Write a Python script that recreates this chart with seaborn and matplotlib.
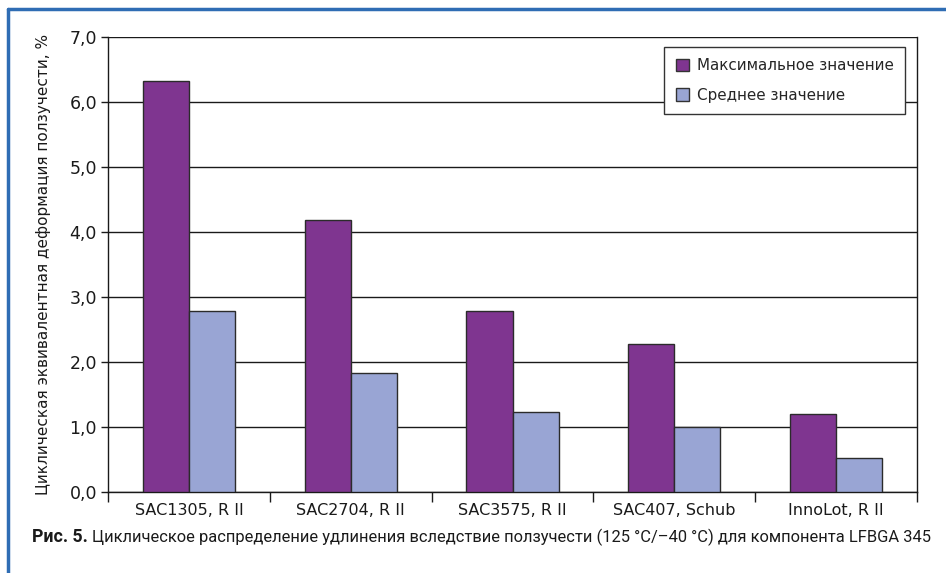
import matplotlib
matplotlib.use("Agg")
import matplotlib.pyplot as plt
from matplotlib.lines import Line2D
from matplotlib.ticker import FixedLocator, FuncFormatter
import seaborn as sns
import pandas as pd

# Creep strain values per solder alloy, %
alloys = ["SAC1305, R II", "SAC2704, R II", "SAC3575, R II", "SAC407, Schub", "InnoLot, R II"]
max_values = [6.33, 4.18, 2.79, 2.28, 1.20]
mean_values = [2.78, 1.84, 1.23, 1.00, 0.53]
series_names = ["Максимальное значение", "Среднее значение"]
series_colors = ["#7f3590", "#99a5d4"]
y_ticks = [0, 1, 2, 3, 4, 5, 6, 7]
caption_head = "Рис. 5."
caption_body = "Циклическое распределение удлинения вследствие ползучести (125 °C/–40 °C) для компонента LFBGA 345"

df = pd.DataFrame({
    "alloy": alloys * 2,
    "value": max_values + mean_values,
    "series": [series_names[0]] * len(alloys) + [series_names[1]] * len(alloys),
})

sns.set_theme(style="white")
plt.rcParams["font.family"] = ["DejaVu Sans"]

W, H = 946, 573
fig = plt.figure(figsize=(W / 100, H / 100), dpi=100)
ax = fig.add_axes([108 / W, 1 - 492.3 / H, (917 - 108) / W, (492.3 - 37) / H])

sns.barplot(
    data=df, x="alloy", y="value", hue="series",
    order=alloys, hue_order=series_names,
    palette=series_colors, width=0.57, gap=0,
    edgecolor="#2b2b2b", linewidth=1.0, saturation=1,
    ax=ax, zorder=3,
)

ax.set_ylim(0, 7)
ax.set_xlim(-0.5, len(alloys) - 0.5)
ax.set_yticks(y_ticks)
ax.yaxis.set_major_formatter(FuncFormatter(lambda v, p: f"{v:.1f}".replace(".", ",")))
ax.yaxis.grid(True, color="#1a1a1a", linewidth=1.0, zorder=0)
ax.set_axisbelow(True)

# category boundaries carry the tick marks, labels sit at the centres
ax.xaxis.set_major_locator(FixedLocator([i - 0.5 for i in range(len(alloys) + 1)]))
ax.xaxis.set_major_formatter(FuncFormatter(lambda v, p: ""))
ax.xaxis.set_minor_locator(FixedLocator(list(range(len(alloys)))))
ax.set_xticklabels(alloys, minor=True)
ax.tick_params(axis="x", which="major", direction="out", length=7, width=1, color="#1a1a1a", bottom=True)
ax.tick_params(axis="x", which="minor", length=0, pad=8, labelsize=11.5, labelcolor="#1a1a1a")
ax.tick_params(axis="y", direction="out", length=5, width=1, color="#1a1a1a", left=True, pad=3,
               labelsize=12.5, labelcolor="#1a1a1a")

for side in ["left", "bottom", "right"]:
    ax.spines[side].set_visible(True)
    ax.spines[side].set_color("#1a1a1a")
    ax.spines[side].set_linewidth(1.0)
ax.spines["top"].set_visible(False)

ax.set_xlabel("")
ax.set_ylabel("Циклическая эквивалентная деформация ползучести, %", fontsize=11, color="#1a1a1a")
ax.yaxis.set_label_coords(-(108 - 51) / (917 - 108), 0.5)

leg = ax.legend(
    loc="upper right", bbox_to_anchor=((905 - 108) / (917 - 108), (492.3 - 47) / (492.3 - 37)),
    frameon=True, fancybox=False, edgecolor="#333333", fontsize=10.9,
    handlelength=0.9, handleheight=0.9, handletextpad=0.5, borderpad=0.75, labelspacing=0.95,
    borderaxespad=0,
)
leg.get_frame().set_linewidth(1.0)
leg.get_frame().set_facecolor("white")
leg.get_frame().set_alpha(1)
for h in leg.legend_handles:
    h.set_edgecolor("#333333")

# caption line: bold figure number followed by the description, fitted to the width
cap_font = ["Roboto", "DejaVu Sans"]
cap_y = 1 - 537 / H
head = fig.text(32 / W, cap_y, caption_head, fontsize=12.5, fontweight="bold", color="#1a1a1a",
                va="center", ha="left", family=cap_font)
body = fig.text(92 / W, cap_y, caption_body, fontsize=12.5, color="#1a1a1a",
                va="center", ha="left", family=cap_font)
renderer = fig.canvas.get_renderer()
hw = head.get_window_extent(renderer).width
if hw > 0:
    head.set_fontsize(12.5 * 56 / hw)
bw = body.get_window_extent(renderer).width
if bw > 0:
    body.set_fontsize(min(13.5, 12.5 * 838 / bw))

# blue frame along the top and left edges
frame_color = "#2f6db4"
fig.add_artist(Line2D([7.5 / W, 1.0], [1 - 8.5 / H, 1 - 8.5 / H], color=frame_color, linewidth=2.5,
                      transform=fig.transFigure))
fig.add_artist(Line2D([7.5 / W, 7.5 / W], [0, 1 - 8.5 / H], color=frame_color, linewidth=2.5,
                      transform=fig.transFigure))

fig.savefig("out.png", dpi=100, facecolor="white")
